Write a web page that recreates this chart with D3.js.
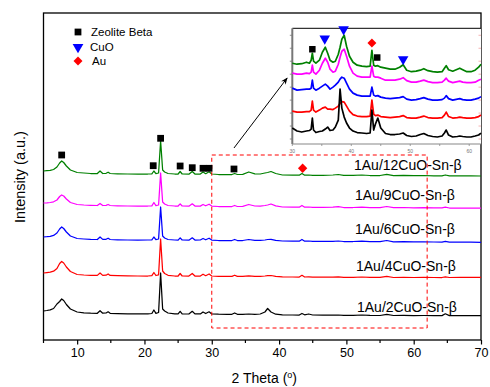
<!DOCTYPE html>
<html>
<head>
<meta charset="utf-8">
<script src="https://cdn.jsdelivr.net/npm/d3@7"></script>
<style>
  html, body { margin: 0; padding: 0; background: #fff; }
  svg { display: block; font-family: "Liberation Sans", Arial, sans-serif; }
</style>
</head>
<body>
<svg id="chart" width="490" height="387"></svg>
<script>
// ---------------- DATA ----------------
const seriesNames = ["1Au/12CuO-Sn-β", "1Au/9CuO-Sn-β", "1Au/6CuO-Sn-β", "1Au/4CuO-Sn-β", "1Au/2CuO-Sn-β"];
const seriesColors = ["#008000", "#ff00ff", "#0000ff", "#ff0000", "#000000"];
// stacking offsets (a.u.)
const seriesOffsets = [169, 137, 103, 67, 29];

// main pattern: 2θ grid
const twoTheta = [5, 5.5, 6, 6.5, 7, 7.4, 7.7, 8.0, 8.4, 9, 10, 11, 12, 13, 13.4, 13.8, 14.3, 14.6, 14.9, 16, 17.5, 19, 20.5, 21.1, 21.4, 21.7, 22.1, 22.4, 22.7, 23.0, 23.5, 24.5, 25.0, 25.3, 25.6, 26.6, 27.1, 27.5, 28.3, 28.7, 29.1, 29.6, 30.0, 31, 32.3, 33.0, 33.4, 33.8, 34.6, 35.5, 36.4, 37.2, 37.9, 38.3, 38.8, 39.5, 40.5, 42, 43.0, 43.4, 43.8, 44.4, 45, 46.5, 48, 48.8, 49.6, 51, 52.3, 53.5, 55, 56, 57, 58.5, 60, 61.5, 63, 64.2, 64.7, 65.3, 67, 68.5, 70];

const int12 = [0, 0.3, 0.6, 1.5, 4, 8, 10, 8.5, 5, 1, -1.5, -2, -2.5, -2.5, 0, -2.5, -2.3, -1.2, -2.5, -2.8, -3, -3, -3, -2.8, 0, -2.6, -2, 30, 1, -1, -2.5, -3, -3, -0.5, -3, -3.2, -0.5, -3, -3, -1, -2.7, -0.8, -3, -3.5, -3.5, -3.5, -2.5, -3.5, -3.3, -1, -2.8, -3, -2, -1.5, -0.5, -2.5, -4, -4.2, -4.2, -2.5, -4.2, -4, -4.3, -4.3, -4, -3.5, -4.4, -4.4, -4, -4.5, -4.5, -3.3, -4.6, -4.3, -4.7, -4.5, -4.8, -4.8, -4, -4.8, -4.9, -4.9, -5];
const int9  = [0, 0.2, 0.5, 1.2, 3, 6.5, 8, 7, 4, 0.5, -1.5, -2, -2.3, -2.5, -0.5, -2.5, -2.3, -1.5, -2.5, -2.8, -3, -3, -3, -2.8, 0.5, -2.6, -2, 30, 1, -1, -2.5, -3, -3, -0.8, -3, -3.2, -0.8, -3.1, -3.1, -1.5, -2.8, -1.2, -3.1, -3.5, -3.5, -3.5, -2.5, -3.5, -3.4, -1.5, -3, -3.2, -2.5, -2, -1, -2.8, -4, -4.2, -4.2, -2.5, -4.2, -4, -4.3, -4.4, -4.2, -3.7, -4.5, -4.5, -4.2, -4.6, -4.6, -3.5, -4.7, -4.5, -4.8, -4.7, -4.9, -4.9, -4.2, -5, -5, -5, -5];
const int6  = [0, 0.3, 0.7, 1.6, 4, 8, 10, 8.5, 5, 1, -1.5, -2, -2.4, -2.5, 0, -2.4, -2.3, -1.2, -2.5, -2.8, -3, -3.1, -3, -2.8, 0, -2.6, -2, 30, 1, -1, -2.5, -3, -3.1, -0.8, -3, -3.2, -0.8, -3.1, -3, -1.5, -2.8, -1.2, -3.1, -3.5, -3.5, -3.5, -2.5, -3.5, -3.5, -2.5, -3.3, -3.4, -3, -2.5, -2.3, -3.3, -4, -4.2, -4.2, -2.5, -4.2, -4, -4.3, -4.4, -4.3, -4, -4.5, -4.5, -4.2, -4.6, -4.7, -3.5, -4.8, -4.6, -4.9, -4.8, -5, -5.1, -4.4, -5.1, -5.2, -5.2, -5.3];
const int4  = [0, 0.4, 0.8, 1.8, 4.5, 9.5, 11.5, 10, 6, 1.5, -1.5, -2, -2.3, -2.4, 0, -2.4, -2.2, -1, -2.4, -2.7, -2.9, -3, -3, -2.7, 0.5, -2.5, -1.8, 34, 2, -0.5, -2.3, -3, -3, -0.5, -3, -3.1, -0.5, -3, -3, -1.2, -2.7, -1, -3, -3.3, -3.4, -3.4, -2.2, -3.4, -3.4, -2.8, -3.3, -3.4, -3, -2.6, -2.5, -3.3, -3.8, -4, -4, -2.3, -4, -3.8, -4.1, -4.2, -4.1, -3.9, -4.3, -4.3, -4, -4.4, -4.4, -3.3, -4.5, -4.3, -4.5, -4.4, -4.5, -4.5, -3.8, -4.5, -4.4, -4.4, -4.4];
const int2  = [0, 0.5, 1.2, 2.5, 7, 9.5, 12, 10.5, 6.5, 2, -1, -1.8, -2.2, -2.3, 0.3, -2.2, -2, -0.8, -2.3, -2.6, -2.8, -2.9, -2.9, -2.5, 1, -2.3, -1.5, 38, 2, 0, -2, -2.8, -2.9, -0.3, -2.9, -3, -0.3, -2.9, -2.9, -1, -2.5, -0.8, -2.9, -3.2, -3.3, -3.3, -2, -3.3, -3.4, -3, -3.4, -3, -1, 2.5, -1, -3.2, -3.8, -4, -4, -2.5, -3.8, -3, -4, -4.2, -4.1, -4, -4.3, -4.3, -4, -4.4, -4.5, -3.3, -4.5, -4.4, -4.6, -4.5, -4.6, -4.6, -2.8, -4.6, -4.7, -4.7, -4.7];
const mainIntensities = [int12, int9, int6, int4, int2];

// inset pattern (30–62°, expanded scale)
const insetTheta = [30, 30.8, 31.6, 32.4, 32.9, 33.2, 33.4, 33.6, 34.0, 34.6, 35.1, 35.6, 36.0, 36.4, 36.9, 37.3, 37.8, 38.1, 38.4, 38.8, 39.2, 39.7, 40.3, 41, 41.8, 42.6, 43.2, 43.5, 43.8, 44.1, 44.5, 45, 45.8, 46.6, 47.4, 48.2, 48.8, 49.4, 50.2, 51, 51.7, 52.3, 53, 53.8, 54.6, 55.4, 55.8, 56.1, 56.5, 57.2, 58, 58.4, 58.9, 59.6, 60.3, 61, 61.6, 62];
const inset12 = [81, 80, 80.5, 82, 81, 84, 91, 83, 81, 84, 92, 97, 91, 84, 82, 83, 90, 97, 105, 109, 98, 88, 82, 79, 78, 77.5, 78, 94, 79, 78, 78.5, 77, 76, 75, 75, 77, 79.5, 74, 72.5, 73, 74, 75.5, 73.5, 72.5, 72, 72.5, 76, 78.5, 74.5, 73, 75, 76, 74.5, 72.5, 72.5, 74, 77, 80];
const inset9  = [71, 70, 70, 71, 70.5, 72, 79, 72, 70, 74, 81, 86, 82, 75, 72, 73, 80, 87, 93, 95, 88, 78, 71, 68, 67, 67, 67, 78, 68, 67, 67, 66, 64, 64, 64, 65, 66.5, 63.5, 62, 62, 63, 64, 62.5, 61.5, 61.5, 62, 64, 66, 63, 61.5, 62.5, 63, 62, 61.5, 61.5, 62, 64, 65];
const inset6  = [56, 54, 54.5, 55, 55, 56, 64, 56, 54, 56, 58, 60, 58, 55, 57, 59, 62, 65, 67, 66, 61, 55, 51, 49, 48, 48, 48, 57, 49, 48, 48.5, 47, 46, 45.5, 46, 46.5, 47.5, 45, 44, 44.5, 45.5, 46.5, 45, 44, 44, 44.5, 46, 48.5, 45.5, 44, 45, 45.5, 44.5, 44, 44, 45, 46, 47.5];
const inset4  = [33, 32, 32, 32.5, 32.5, 34, 43, 34, 32, 34, 36, 37, 35, 35, 34.5, 36, 38, 40.5, 42.5, 42, 38, 33, 29.5, 28, 27.5, 27.5, 28, 44, 30, 28.5, 29, 27.5, 27, 26.5, 27, 27.5, 28.5, 26.5, 26, 26, 27, 28, 26.5, 26, 26, 26.5, 29, 32, 27.5, 26, 26.5, 27, 26.5, 26, 26, 26.5, 27.5, 29];
const inset2  = [16, 13, 12, 13, 13.5, 15, 26, 14, 11.5, 12.5, 13, 15, 17, 13.5, 14, 17, 24, 55, 36, 27, 21, 16, 13, 11.5, 11, 10.5, 11, 34, 14, 20, 26, 16, 10.5, 9.5, 9.5, 10, 11, 8.5, 7.5, 8, 9.5, 10.5, 8.5, 7.5, 7, 8, 11, 14, 9, 7, 7.5, 8, 7.5, 7, 7, 8, 9, 11];
const insetIntensities = [inset12, inset9, inset6, inset4, inset2];

// phase markers [2θ, intensity]
const zeoliteMain = [[7.7, 185], [21.3, 174.3], [22.4, 201.7], [25.3, 174], [27.1, 172.3], [28.7, 171.7], [29.6, 171.7], [33.3, 171]];
const auMain = [[43.5, 171.7]];
const zeoliteInset = [[33.4, 95], [44.4, 86.7]];
const cuoInset = [[35.5, 105.7], [38.7, 115], [48.8, 85]];
const auInset = [[43.5, 101.3]];

const xTicks = [10, 20, 30, 40, 50, 60, 70];
const xMinorTicks = [5, 15, 25, 35, 45, 55, 65];
const insetTicks = [30, 40, 50, 60];
const legendItems = ["Zeolite Beta", "CuO", "Au"];
const zoomBox = {x0: 30, x1: 62, y0: 12, y1: 185};
const arrowFrom = [33.3, 192], arrowTo = [41.2, 262];

// ---------------- CHART ----------------
const svg = d3.select("#chart");
const L = 43.5, R = 481, T = 13, B = 340;
const x = d3.scaleLinear().domain([5, 70]).range([L, R]);
const y = d3.scaleLinear().domain([0, 327]).range([B, T]);

// frame
svg.append("rect").attr("x", L).attr("y", T).attr("width", R - L).attr("height", B - T)
  .attr("fill", "none").attr("stroke", "#000").attr("stroke-width", 1.3);

// x axis
const xAxis = d3.axisBottom(x).tickValues(xTicks).tickSize(4.5).tickPadding(4).tickFormat(d3.format("d"));
const gx = svg.append("g").attr("transform", `translate(0,${B})`).call(xAxis);
gx.select(".domain").remove();
gx.selectAll("line").attr("stroke", "#000").attr("stroke-width", 1.2);
gx.selectAll("text").attr("font-size", 12.5).attr("fill", "#000").attr("font-family", "Liberation Sans, Arial, sans-serif");
svg.append("g").attr("transform", `translate(0,${B})`)
  .selectAll("line").data(xMinorTicks).join("line")
  .attr("x1", d => x(d)).attr("x2", d => x(d)).attr("y1", 0).attr("y2", 3)
  .attr("stroke", "#000").attr("stroke-width", 1.2);

// axis titles
const xt = svg.append("text").attr("x", (L + R) / 2 + 2).attr("y", 382.5).attr("text-anchor", "middle")
  .attr("font-size", 14).attr("fill", "#000");
xt.append("tspan").text("2 Theta (");
xt.append("tspan").text("o").attr("font-size", 9).attr("dy", -5);
xt.append("tspan").text(")").attr("dy", 5);
svg.append("text").attr("transform", "translate(25,177) rotate(-90)").attr("text-anchor", "middle")
  .attr("font-size", 14.5).attr("fill", "#000").text("Intensity (a.u.)");

// main curves
const line = d3.line().x(d => x(d[0])).y(d => y(d[1]));
mainIntensities.forEach((vals, i) => {
  const pts = twoTheta.map((t, j) => [t, seriesOffsets[i] + vals[j]]);
  svg.append("path").attr("d", line(pts)).attr("fill", "none")
    .attr("stroke", seriesColors[i]).attr("stroke-width", 1.25).attr("stroke-linejoin", "round");
});

// series labels
const labelPos = [[354, 169.5], [355, 199.5], [355, 233.5], [356, 271], [357, 311.5]];
seriesNames.forEach((n, i) => {
  svg.append("text").attr("x", labelPos[i][0]).attr("y", labelPos[i][1]).attr("font-size", 14)
    .attr("fill", "#000").text(n);
});

// zoom box
svg.append("rect").attr("x", x(zoomBox.x0)).attr("y", y(zoomBox.y1))
  .attr("width", x(zoomBox.x1) - x(zoomBox.x0)).attr("height", y(zoomBox.y0) - y(zoomBox.y1))
  .attr("fill", "none").attr("stroke", "#ff0000").attr("stroke-width", 1).attr("stroke-dasharray", "4,3");

// markers
const sq = d3.symbol().type(d3.symbolSquare);
const tri = d3.symbol().type(d3.symbolTriangle);
function drawSquares(data, sx, sy, size) {
  svg.append("g").selectAll("path").data(data).join("path")
    .attr("d", sq.size(size)).attr("transform", d => `translate(${sx(d[0])},${sy(d[1])})`).attr("fill", "#000");
}
function drawTriangles(data, sx, sy, size) {
  svg.append("g").selectAll("path").data(data).join("path")
    .attr("d", tri.size(size)).attr("transform", d => `translate(${sx(d[0])},${sy(d[1])}) rotate(180)`).attr("fill", "#0000ff");
}
function drawDiamonds(data, sx, sy, size) {
  svg.append("g").selectAll("path").data(data).join("path")
    .attr("d", sq.size(size)).attr("transform", d => `translate(${sx(d[0])},${sy(d[1])}) rotate(45)`).attr("fill", "#ff0000");
}
drawSquares(zeoliteMain, x, y, 46);
drawDiamonds(auMain, x, y, 44);

// legend
const legX = 78, legY = [32, 47, 61];
svg.append("path").attr("d", sq.size(46)).attr("transform", `translate(${legX},${legY[0]})`).attr("fill", "#000");
svg.append("path").attr("d", tri.size(50)).attr("transform", `translate(${legX},${legY[1]}) rotate(180)`).attr("fill", "#0000ff");
svg.append("path").attr("d", sq.size(40)).attr("transform", `translate(${legX},${legY[2]}) rotate(45)`).attr("fill", "#ff0000");
const legTX = [91, 90, 92];
legendItems.forEach((t, i) => {
  svg.append("text").attr("x", legTX[i]).attr("y", legY[i] + 4).attr("font-size", 11.5).attr("fill", "#000").text(t);
});

// arrow
const defs = svg.append("defs");
defs.append("marker").attr("id", "ah").attr("viewBox", "0 0 10 10").attr("refX", 9).attr("refY", 5)
  .attr("markerWidth", 7).attr("markerHeight", 7).attr("orient", "auto")
  .append("path").attr("d", "M0,1 L10,5 L0,9 L3,5 Z").attr("fill", "#000");
svg.append("line").attr("x1", x(arrowFrom[0])).attr("y1", y(arrowFrom[1]))
  .attr("x2", x(arrowTo[0])).attr("y2", y(arrowTo[1]))
  .attr("stroke", "#000").attr("stroke-width", 1).attr("marker-end", "url(#ah)");

// ---------------- INSET ----------------
const iL = 292.3, iR = 481, iT = 28.3, iB = 144;
const xi = d3.scaleLinear().domain([30, 62]).range([iL, iR]);
const yi = d3.scaleLinear().domain([0, 116]).range([iB, iT]);
svg.append("rect").attr("x", iL).attr("y", iT).attr("width", iR - iL).attr("height", iB - iT)
  .attr("fill", "#fff").attr("stroke", "none");
// top border
svg.append("line").attr("x1", iL).attr("x2", iR).attr("y1", iT).attr("y2", iT).attr("stroke", "#000").attr("stroke-width", 1);
// left & bottom grey axes
svg.append("line").attr("x1", iL).attr("x2", iL).attr("y1", iT).attr("y2", iB).attr("stroke", "#777").attr("stroke-width", 2);
svg.append("line").attr("x1", iL).attr("x2", iR).attr("y1", iB).attr("y2", iB).attr("stroke", "#888").attr("stroke-width", 1.2);
// left ticks
const leftTickVals = d3.range(0, 9).map(k => k * 13 + 5);
svg.append("g").selectAll("line").data(leftTickVals).join("line")
  .attr("x1", iL - 2.5).attr("x2", iL).attr("y1", d => yi(d)).attr("y2", d => yi(d))
  .attr("stroke", "#777").attr("stroke-width", 0.8);
// right red ticks
svg.append("g").selectAll("line").data(leftTickVals).join("line")
  .attr("x1", iR - 2.5).attr("x2", iR).attr("y1", d => yi(d)).attr("y2", d => yi(d))
  .attr("stroke", "#f2a0a0").attr("stroke-width", 0.8);
// bottom ticks + labels
svg.append("g").selectAll("line").data(d3.range(30, 63, 5)).join("line")
  .attr("x1", d => xi(d)).attr("x2", d => xi(d)).attr("y1", iB).attr("y2", iB + 2)
  .attr("stroke", "#888").attr("stroke-width", 0.8);
svg.append("g").selectAll("text").data(insetTicks).join("text")
  .attr("x", d => xi(d)).attr("y", iB + 9).attr("text-anchor", "middle").attr("font-size", 5)
  .attr("fill", "#777").text(d => d);

// inset curves
const lineI = d3.line().x(d => xi(d[0])).y(d => yi(d[1]));
insetIntensities.forEach((vals, i) => {
  const pts = insetTheta.map((t, j) => [t, vals[j]]);
  svg.append("path").attr("d", lineI(pts)).attr("fill", "none")
    .attr("stroke", seriesColors[i]).attr("stroke-width", 1.7).attr("stroke-linejoin", "round");
});
drawSquares(zeoliteInset, xi, yi, 42);
drawTriangles(cuoInset, xi, yi, 48);
drawDiamonds(auInset, xi, yi, 40);
</script>
</body>
</html>
